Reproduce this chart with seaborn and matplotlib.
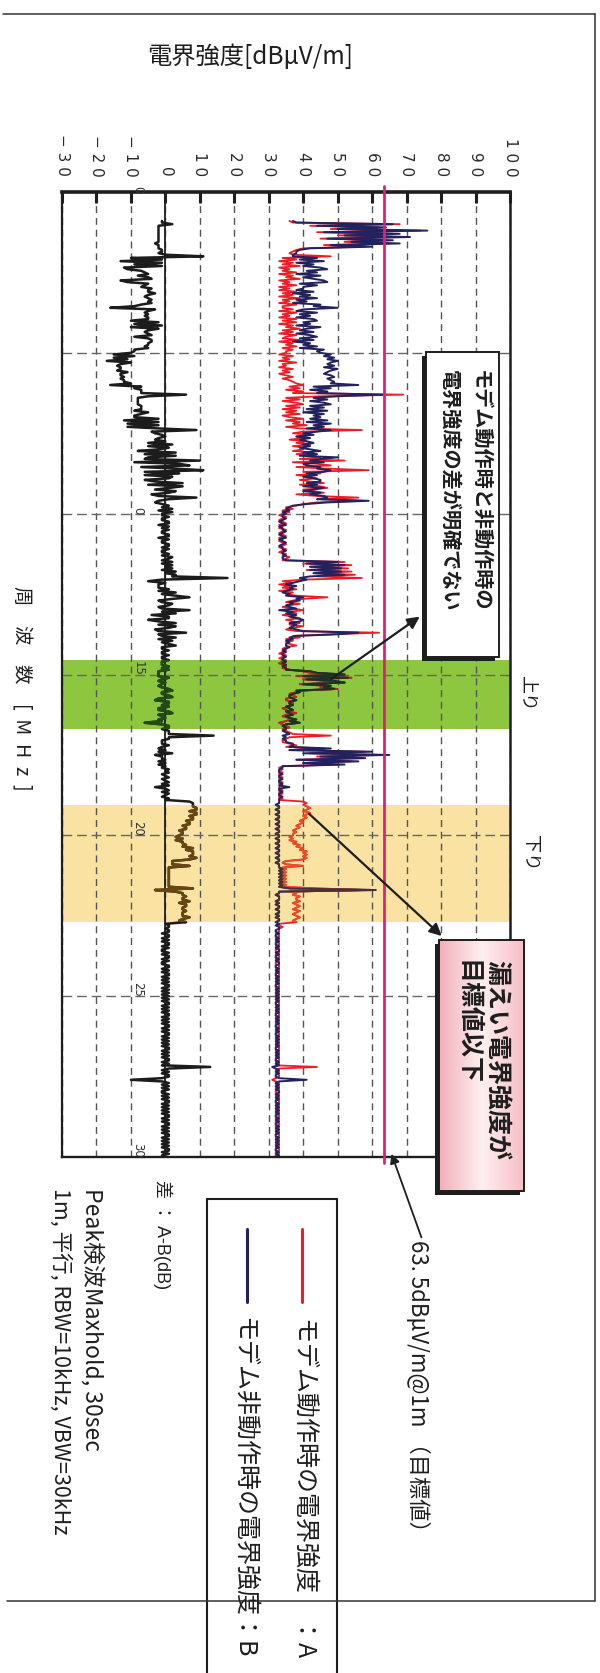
import numpy as np
import matplotlib
matplotlib.use("Agg")
import matplotlib.pyplot as plt
import matplotlib.transforms as mtransforms
from matplotlib.patches import Rectangle
from matplotlib.lines import Line2D
import seaborn as sns

sns.set_style("white")
plt.rcParams["font.family"] = ["Noto Sans CJK JP", "DejaVu Sans"]

# ---------------------------------------------------------------- data
# frequency grid [MHz], 0.05 MHz steps from 0.90 to 30.00
freq = np.round(np.arange(18, 601) * 0.05, 2)

# A : field strength with modem operating [dBuV/m]
level_a = [
    36, 37,                                                                  # 0.9
    68, 42, 62, 48, 74, 44, 66, 50, 69, 45, 64, 52, 65, 46, 58, 40, 38, 37, 36, 37,  # 1
    48, 34, 38, 33, 37, 34, 39, 33, 36, 34, 38, 33, 37, 35, 39, 33, 36, 34, 38, 33,  # 2
    36, 33, 38, 34, 37, 33, 39, 34, 36, 33, 38, 34, 34, 37, 33, 38, 34, 36, 33, 38,  # 3
    34, 38, 33, 37, 35, 39, 34, 37, 33, 38, 35, 34, 39, 33, 37, 35, 38, 34, 37, 35,  # 4
    35, 33, 37, 34, 36, 33, 38, 34, 35, 33, 37, 34, 36, 33, 35, 37, 34, 36, 37, 38,  # 5
    40, 36, 39, 35, 40, 37, 69, 45, 35, 39, 34, 38, 40, 35, 39, 34, 38, 35, 39, 34,  # 6
    36, 40, 35, 39, 37, 41, 35, 39, 57, 40, 37, 42, 38, 40, 36, 41, 38, 42, 37, 40,  # 7
    40, 37, 43, 38, 42, 45, 39, 52, 37, 44, 48, 38, 47, 59, 40, 45, 38, 42, 44, 39,  # 8
    42, 46, 39, 45, 47, 40, 43, 46, 38, 44, 56, 45, 57, 44, 40, 38, 35, 37, 34, 36,  # 9
    34, 33, 35, 34, 33, 34, 35, 33, 34, 33, 35, 34, 33, 34, 35, 33, 34, 33, 34, 35,  # 10
    34, 33, 35, 34, 33, 35, 34, 36, 35, 34, 52, 40, 54, 42, 53, 41, 54, 43, 55, 44,  # 11
    57, 40, 34, 37, 33, 36, 34, 38, 33, 37, 35, 38, 47, 40, 37, 35, 39, 36, 34, 37,  # 12
    40, 36, 38, 34, 37, 39, 35, 37, 39, 36, 40, 37, 35, 38, 62, 48, 37, 39, 35, 37,  # 13
    35, 36, 38, 35, 34, 35, 34, 33, 35, 34, 33, 35, 34, 33, 34, 35, 34, 36, 40, 42,  # 14
    50, 38, 54, 40, 47, 52, 39, 46, 45, 50, 40, 38, 36, 37, 38, 35, 35, 37, 37, 36,  # 15
    36, 34, 35, 36, 38, 35, 34, 36, 36, 35, 33, 34, 35, 36, 34, 35, 36, 37, 48, 36,  # 16
    35, 34, 34, 36, 38, 35, 46, 36, 58, 42, 62, 44, 57, 38, 54, 40, 50, 34, 33, 34,  # 17
    33, 34, 33, 33, 34, 33, 33, 34, 33, 34, 33, 33, 34, 33, 34, 33, 33, 34, 33, 40,  # 18
    41, 40, 41, 42, 41, 40, 42, 41, 40, 41, 40, 39, 40, 39, 38, 39, 38, 37, 38, 37,  # 19
    37, 36, 37, 36, 38, 37, 39, 38, 40, 39, 41, 40, 41, 40, 41, 40, 35, 34, 35, 40,  # 20
    34, 35, 34, 35, 34, 35, 34, 35, 34, 35, 34, 35, 34, 44, 58, 36, 38, 37, 39, 38,  # 21
    38, 39, 37, 38, 39, 38, 37, 39, 38, 37, 38, 39, 38, 37, 38, 33, 33, 34, 33, 33,  # 22
    33, 32, 33, 33, 32, 33, 32, 33, 33, 32, 33, 32, 32, 33, 32, 33, 33, 32, 33, 32,  # 23
    32, 33, 33, 32, 33, 32, 33, 33, 32, 33, 32, 33, 32, 33, 33, 32, 33, 32, 33, 32,  # 24
    33, 32, 33, 32, 33, 33, 32, 33, 32, 33, 32, 33, 33, 32, 33, 32, 33, 32, 33, 33,  # 25
    32, 33, 32, 33, 33, 32, 33, 32, 33, 32, 33, 32, 33, 33, 32, 33, 32, 33, 32, 33,  # 26
    33, 32, 33, 32, 44, 33, 32, 33, 32, 33, 33, 32, 31, 32, 33, 32, 33, 32, 33, 32,  # 27
    32, 33, 32, 33, 32, 33, 33, 32, 33, 32, 33, 32, 33, 32, 33, 33, 32, 33, 32, 33,  # 28
    33, 32, 33, 32, 33, 32, 33, 33, 32, 33, 32, 33, 32, 33, 32, 33, 33, 32, 33, 32,  # 29
    32,                                                                      # 30
]

# B : field strength with modem idle [dBuV/m]
level_b = [
    37, 38,                                                                  # 0.9
    66, 44, 64, 50, 76, 46, 68, 52, 71, 47, 66, 54, 68, 48, 60, 42, 39, 38, 38, 37,  # 1
    37, 44, 39, 46, 38, 43, 40, 45, 47, 41, 44, 38, 45, 40, 43, 46, 47, 39, 44, 40,  # 2
    40, 38, 43, 37, 42, 39, 44, 38, 41, 37, 45, 43, 50, 40, 38, 44, 39, 42, 38, 43,  # 3
    44, 40, 42, 38, 45, 41, 39, 43, 38, 42, 44, 39, 43, 37, 42, 40, 44, 39, 46, 44,  # 4
    45, 48, 46, 49, 47, 50, 48, 47, 49, 46, 50, 48, 47, 46, 48, 49, 47, 48, 49, 48,  # 5
    56, 43, 48, 42, 47, 44, 63, 50, 43, 47, 42, 46, 48, 42, 46, 41, 47, 40, 46, 43,  # 6
    45, 42, 47, 41, 48, 43, 46, 41, 48, 44, 40, 43, 38, 42, 39, 41, 43, 40, 42, 39,  # 7
    42, 45, 40, 44, 39, 50, 45, 42, 46, 40, 41, 45, 44, 48, 46, 41, 44, 40, 43, 45,  # 8
    45, 41, 44, 40, 46, 43, 40, 45, 42, 46, 47, 44, 59, 47, 41, 37, 36, 35, 36, 34,  # 9
    35, 34, 34, 35, 34, 33, 34, 35, 33, 34, 34, 35, 34, 33, 34, 35, 33, 34, 35, 34,  # 10
    33, 34, 34, 35, 34, 34, 35, 34, 34, 35, 50, 41, 52, 42, 51, 42, 51, 43, 52, 42,  # 11
    39, 41, 39, 37, 35, 38, 36, 37, 35, 34, 36, 35, 40, 38, 39, 36, 37, 35, 36, 38,  # 12
    33, 37, 35, 38, 36, 38, 40, 39, 36, 38, 37, 36, 38, 40, 56, 50, 38, 36, 37, 35,  # 13
    36, 35, 35, 36, 35, 34, 35, 34, 34, 35, 34, 34, 35, 34, 35, 34, 35, 35, 42, 44,  # 14
    52, 40, 53, 41, 49, 52, 40, 48, 46, 49, 38, 39, 37, 36, 36, 37, 38, 36, 36, 37,  # 15
    35, 36, 37, 35, 36, 37, 35, 36, 38, 36, 39, 35, 34, 35, 35, 34, 35, 36, 34, 35,  # 16
    34, 35, 35, 37, 37, 36, 48, 36, 60, 40, 65, 45, 58, 38, 56, 40, 52, 34, 34, 33,  # 17
    33, 33, 34, 33, 33, 34, 33, 33, 34, 33, 36, 33, 33, 34, 33, 33, 34, 33, 33, 33,  # 18
    33, 32, 33, 33, 32, 33, 33, 32, 33, 33, 32, 33, 33, 32, 33, 33, 32, 33, 33, 32,  # 19
    33, 33, 32, 33, 33, 32, 33, 33, 32, 33, 33, 32, 33, 33, 32, 33, 33, 32, 33, 33,  # 20
    33, 34, 33, 34, 33, 34, 33, 34, 33, 34, 33, 34, 33, 36, 61, 33, 33, 32, 33, 33,  # 21
    33, 32, 33, 32, 33, 33, 32, 33, 33, 32, 33, 32, 33, 33, 32, 33, 32, 33, 33, 32,  # 22
    32, 33, 32, 32, 33, 32, 33, 32, 32, 33, 32, 33, 33, 32, 33, 32, 32, 33, 32, 33,  # 23
    33, 32, 32, 33, 32, 33, 32, 32, 33, 32, 33, 32, 33, 32, 32, 33, 32, 33, 32, 33,  # 24
    32, 33, 32, 33, 32, 32, 33, 32, 33, 32, 33, 32, 32, 33, 32, 33, 32, 33, 32, 32,  # 25
    33, 32, 33, 32, 32, 33, 32, 33, 32, 33, 32, 33, 32, 32, 33, 32, 33, 32, 33, 32,  # 26
    32, 33, 32, 33, 31, 32, 33, 32, 33, 32, 32, 33, 41, 33, 32, 33, 32, 33, 32, 33,  # 27
    33, 32, 33, 32, 33, 32, 32, 33, 32, 33, 32, 33, 32, 33, 32, 32, 33, 32, 33, 32,  # 28
    32, 33, 32, 33, 32, 33, 32, 32, 33, 32, 33, 32, 33, 32, 33, 32, 32, 33, 32, 33,  # 29
    32,                                                                      # 30
]

LIMIT = 63.5                      # target value [dBuV/m @ 1 m]
UP_BAND = (14.55, 16.7)           # 上り
DOWN_BAND = (19.07, 22.7)         # 下り

DB_TICKS = list(range(-30, 101, 10))
DB_LABELS = ["− 3 0", "− 2 0", "− 1 0", "0", "1 0", "2 0", "3 0", "4 0",
             "5 0", "6 0", "7 0", "8 0", "9 0", "1 0 0"]
FREQ_GRID = [5, 10, 15, 20, 25]
FREQ_LABEL_POS = [0, 10, 15, 20, 25, 30]
FREQ_LABELS = ["0", "0", "15", "20", "25", "30"]

assert len(level_a) == len(freq) == len(level_b)
diff = np.array(level_a, float) - np.array(level_b, float)

# ---------------------------------------------------------------- style
RED = "#EE1C25"
NAVY = "#22225E"
DIFFC = "#1C1C1C"
PINK = "#E0207A"
GREEN = "#8DC63F"
TAN = "#F9E2A2"
INK = "#1E1E1E"

# how each trace reads through the tinted bands (A, B, A-B)
TINT = {
    UP_BAND: (GREEN, ["#AA3219", "#1E3223", "#234B14"]),
    DOWN_BAND: (TAN, ["#EB4B23", "#463232", "#69460F"]),
}

W, H, DPI = 600, 1674, 100
fig = plt.figure(figsize=(W / DPI, H / DPI), dpi=DPI)
fig.patch.set_facecolor("white")


def fx(px):
    return px / W


def fy(py):
    return 1 - py / H


ax = fig.add_axes([fx(62), fy(1158), (510 - 62) / W, (1158 - 193) / H])

# service bands
for (lo, hi), (c, _) in TINT.items():
    ax.axhspan(lo, hi, color=c, lw=0, zorder=0.5)

# traces
traces = [(level_a, RED, 1.3), (level_b, NAVY, 1.4), (diff, DIFFC, 1.8)]
for vals, col, lw in traces:
    sns.lineplot(x=vals, y=freq, orient="y", sort=False, estimator=None,
                 color=col, lw=lw, ax=ax, zorder=2)

# traces tinted where they cross the bands
for (lo, hi), (c, tints) in TINT.items():
    clip = Rectangle((-30, lo), 130, hi - lo, transform=ax.transData)
    for (vals, col, lw), tcol in zip(traces, tints):
        ln, = ax.plot(vals, freq, color=tcol, lw=lw, zorder=2.1)
        ln.set_clip_path(clip)

ax.axvline(0, color=INK, lw=1.3, zorder=1.8)
ax.axvline(LIMIT, ymin=-0.006, ymax=1.006, color=PINK, lw=2.0, zorder=3,
           clip_on=False)

ax.set_xlim(-30, 100)
ax.set_ylim(30, 0)

ax.set_xticks(DB_TICKS)
ax.set_xticklabels(DB_LABELS, rotation=270, fontsize=11, family="DejaVu Sans",
                   color="#2a2a2a")
ax.tick_params(axis="x", bottom=False, labelbottom=False, top=True,
               labeltop=True, direction="in", length=8, width=2.2, pad=12,
               color=INK)
ax.set_yticks(FREQ_GRID)
ax.tick_params(axis="y", left=False, labelleft=False)
ax.grid(axis="x", linestyle=(0, (5, 3.5)), color="#555555", lw=1.0)
ax.grid(axis="y", linestyle=(0, (7, 3.5)), color="#666666", lw=1.0)
ax.set_xlabel("")
ax.set_ylabel("")

for side, lw in (("top", 2.6), ("bottom", 1.7), ("left", 1.6), ("right", 1.8)):
    ax.spines[side].set_linewidth(lw)
    ax.spines[side].set_color(INK)
    ax.spines[side].set_visible(True)

for f, lab in zip(FREQ_LABEL_POS, FREQ_LABELS):
    ax.text(-8, f, lab, rotation=270, ha="center", va="bottom", fontsize=8.5,
            color="#333333", family="DejaVu Sans", zorder=3)

# callout boxes
shadow = mtransforms.offset_copy(ax.transData, fig=fig, x=-4, y=-4,
                                 units="dots")


def callout(x0, f0, x1, f1):
    ax.add_patch(Rectangle((x0, f0), x1 - x0, f1 - f0, transform=shadow,
                           fc=INK, ec="none", zorder=5, clip_on=False))


callout(75.5, 4.97, 96.8, 14.45)
ax.add_patch(Rectangle((75.5, 4.97), 96.8 - 75.5, 14.45 - 4.97, fc="white",
                       ec=INK, lw=1.4, zorder=5.1, clip_on=False))
ax.text(87.0, 5.5, "モデム動作時と非動作時の\n電界強度の差が明確でない",
        rotation=270, ha="center", va="top", fontsize=14.5,
        fontweight="bold", linespacing=1.55, multialignment="left",
        color=INK, zorder=6)

bx0, bf0, bx1, bf1 = 79.3, 23.25, 104.1, 31.05
callout(bx0, bf0, bx1, bf1)
pos = np.linspace(0, 1, 64)
stops = [0, 0.5, 1]
cols = np.array([[242, 176, 184], [253, 240, 240], [246, 190, 198]]) / 255.0
grad = np.stack([np.interp(pos, stops, cols[:, k]) for k in range(3)], -1)
ax.imshow(grad[None, :, :], extent=[bx0, bx1, bf1, bf0], aspect="auto",
          interpolation="bilinear", zorder=5.1, clip_on=False)
ax.add_patch(Rectangle((bx0, bf0), bx1 - bx0, bf1 - bf0, fc="none", ec=INK,
                       lw=1.4, zorder=5.2, clip_on=False))
ax.text(91.8, 23.84, "漏えい電界強度が\n目標値以下", rotation=270,
        ha="center", va="top", fontsize=18, fontweight="bold",
        linespacing=1.3, multialignment="left", color=INK, zorder=6)

arrow = dict(arrowstyle="-|>", color=INK, lw=1.6, mutation_scale=18,
             shrinkA=0, shrinkB=0)
ax.annotate("", xy=(73.8, 13.2), xytext=(48.1, 15.14), arrowprops=arrow,
            annotation_clip=False, zorder=6)
ax.annotate("", xy=(80.2, 23.13), xytext=(41.7, 19.33), arrowprops=arrow,
            annotation_clip=False, zorder=6)
ax.annotate("", xy=(LIMIT + 2.1, 29.9), xytext=(74.3, 32.5),
            arrowprops=dict(arrowstyle="-|>", color=INK, lw=1.3,
                            mutation_scale=14, shrinkA=0, shrinkB=0),
            annotation_clip=False, zorder=6)

ax.set_xlim(-30, 100)
ax.set_ylim(30, 0)

# page frame
for xs, ys in (([3, 595], [15, 15]), ([595, 595], [15, 1602]),
               ([7, 595], [1602, 1602])):
    fig.add_artist(Line2D([fx(x) for x in xs], [fy(y) for y in ys],
                          color="#333333", lw=1.1))

# legend box
fig.add_artist(Rectangle((fx(207), fy(1700)), (337 - 207) / W, 500 / H,
                         transform=fig.transFigure, fc="white", ec=INK,
                         lw=1.5))
fig.add_artist(Line2D([fx(302)] * 2, [fy(1230), fy(1303)], color=RED, lw=2.2))
fig.add_artist(Line2D([fx(247)] * 2, [fy(1230), fy(1303)], color=NAVY, lw=2.2))
fig.text(fx(305), fy(1317), "モデム動作時の電界強度　：A", rotation=270,
         ha="center", va="top", fontsize=18, color=INK)
fig.text(fx(243), fy(1317), "モデム非動作時の電界強度：B", rotation=270,
         ha="center", va="top", fontsize=18, color=INK)

# titles and notes
fig.text(fx(147), fy(57), "電界強度[dBμV/m]", ha="left", va="center",
         fontsize=17.5, color=INK)
fig.text(fx(21), fy(688), "周　波　数　[  M  H  z  ]", rotation=270,
         ha="center", va="center", fontsize=14, color=INK)
fig.text(fx(528), fy(693), "上り", rotation=270, ha="center", va="center",
         fontsize=13, color=INK)
fig.text(fx(530), fy(853), "下り", rotation=270, ha="center", va="center",
         fontsize=13, color=INK)
narrow = ["Liberation Sans Narrow", "Noto Sans CJK JP"]
fig.text(fx(418), fy(1240), "63. 5dBμV/m@1m （目標値）", rotation=270,
         ha="center", va="top", fontsize=16, family=narrow, color=INK)
fig.text(fx(163), fy(1180), "差 ： A-B(dB)", rotation=270, ha="center",
         va="top", fontsize=13, family=["Liberation Sans", "Noto Sans CJK JP"],
         color=INK)
fig.text(fx(92), fy(1188), "Peak検波Maxhold, 30sec", rotation=270,
         ha="center", va="top", fontsize=16.5, family=narrow, color=INK)
fig.text(fx(60), fy(1188), "1m, 平行, RBW=10kHz, VBW=30kHz", rotation=270,
         ha="center", va="top", fontsize=15.5, family=narrow, color=INK)

fig.savefig("out.png", dpi=DPI, facecolor="white")
